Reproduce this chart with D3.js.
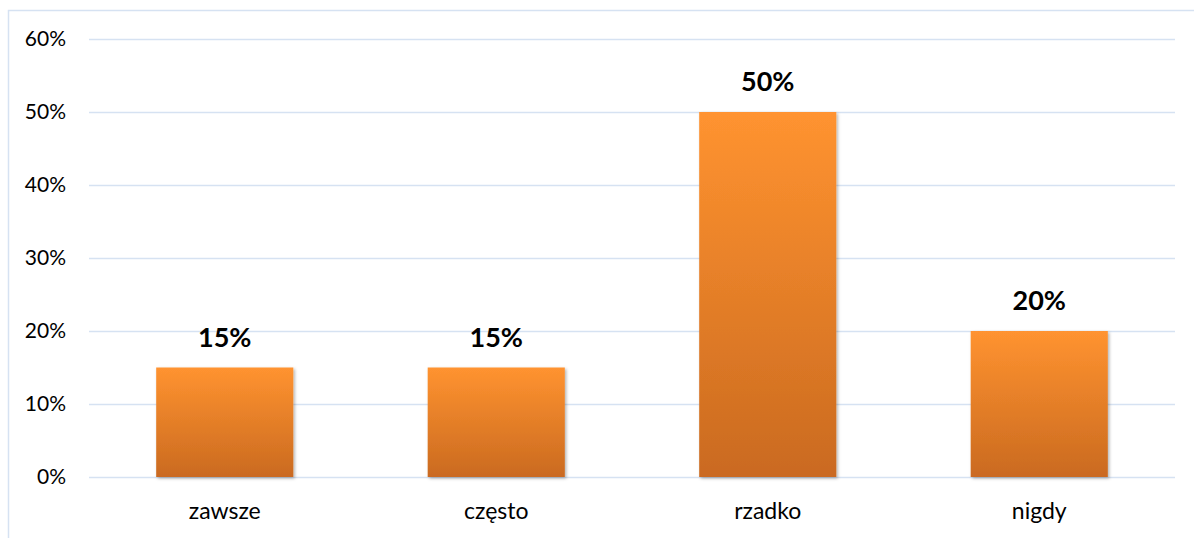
<!DOCTYPE html>
<html>
<head>
<meta charset="utf-8">
<script src="https://cdn.jsdelivr.net/npm/d3@7"></script>
<style>
  body { margin: 0; background: #fff; }
  svg { display: block; font-family: Lato, "Open Sans", sans-serif; }
</style>
</head>
<body>
<script>
(function () {

var categories = ["zawsze", "często", "rzadko", "nigdy"];
var values = [15, 15, 50, 20];
var yTicks = [0, 10, 20, 30, 40, 50, 60];

var width = 1194,
    height = 538,
    left = 89,
    right = 1175,
    top = 39,
    bottom = 477;

var svg = d3.select("body").append("svg")
    .attr("width", width)
    .attr("height", height);

var defs = svg.append("defs");
var grad = defs.append("linearGradient")
    .attr("id", "barFill")
    .attr("x1", 0).attr("y1", 0).attr("x2", 0).attr("y2", 1);
grad.append("stop").attr("offset", "0%").attr("stop-color", "#ff9330");
grad.append("stop").attr("offset", "100%").attr("stop-color", "#ca6a20");

var shadow = defs.append("filter").attr("id", "shadow")
    .attr("x", "-10%").attr("y", "-10%").attr("width", "125%").attr("height", "125%");
shadow.append("feDropShadow")
    .attr("dx", 1.5).attr("dy", 1.5).attr("stdDeviation", 1.5)
    .attr("flood-color", "#000").attr("flood-opacity", 0.3);

// outer chart border
svg.append("rect")
    .attr("x", 8.5).attr("y", 10.5)
    .attr("width", 1200).attr("height", 600)
    .attr("fill", "none")
    .attr("stroke", "#d6e2f2")
    .attr("stroke-width", 1.5);

var x = d3.scaleBand()
    .domain(categories)
    .range([left, right])
    .paddingInner(0.495)
    .paddingOuter(0.2475);

var y = d3.scaleLinear()
    .domain([0, 60])
    .range([bottom, top]);

// gridlines
svg.append("g")
    .selectAll("line")
    .data(yTicks)
    .enter()
    .append("line")
    .attr("x1", left)
    .attr("x2", right)
    .attr("y1", function (d) { return Math.round(y(d)) + 0.5; })
    .attr("y2", function (d) { return Math.round(y(d)) + 0.5; })
    .attr("stroke", "#d6e2f2")
    .attr("stroke-width", 1.5);

// y axis labels
var yAxis = d3.axisLeft(y)
    .tickValues(yTicks)
    .tickSize(0)
    .tickPadding(0)
    .tickFormat(function (d) { return d + "%"; });

svg.append("g")
    .attr("transform", "translate(66,0)")
    .call(yAxis)
    .call(function (g) {
        g.select(".domain").remove();
        g.selectAll("text")
            .attr("fill", "#000")
            .attr("font-size", 21)
            .attr("font-family", "Lato, sans-serif");
    });

// bars
svg.append("g")
    .selectAll("rect")
    .data(values)
    .enter()
    .append("rect")
    .attr("x", function (d, i) { return x(categories[i]); })
    .attr("y", function (d) { return y(d); })
    .attr("width", x.bandwidth())
    .attr("height", function (d) { return y(0) - y(d); })
    .attr("fill", "url(#barFill)")
    .attr("filter", "url(#shadow)");

// value labels
svg.append("g")
    .selectAll("text")
    .data(values)
    .enter()
    .append("text")
    .attr("x", function (d, i) { return x(categories[i]) + x.bandwidth() / 2; })
    .attr("y", function (d) { return y(d) - 21; })
    .attr("text-anchor", "middle")
    .attr("font-size", 27)
    .attr("font-weight", "bold")
    .text(function (d) { return d + "%"; });

// category labels
var xAxis = d3.axisBottom(x).tickSize(0).tickPadding(0);
svg.append("g")
    .attr("transform", "translate(0,503)")
    .call(xAxis)
    .call(function (g) {
        g.select(".domain").remove();
        g.selectAll("text")
            .attr("fill", "#000")
            .attr("font-size", 23)
            .attr("font-family", "Lato, sans-serif");
    });

})();
</script>
</body>
</html>
